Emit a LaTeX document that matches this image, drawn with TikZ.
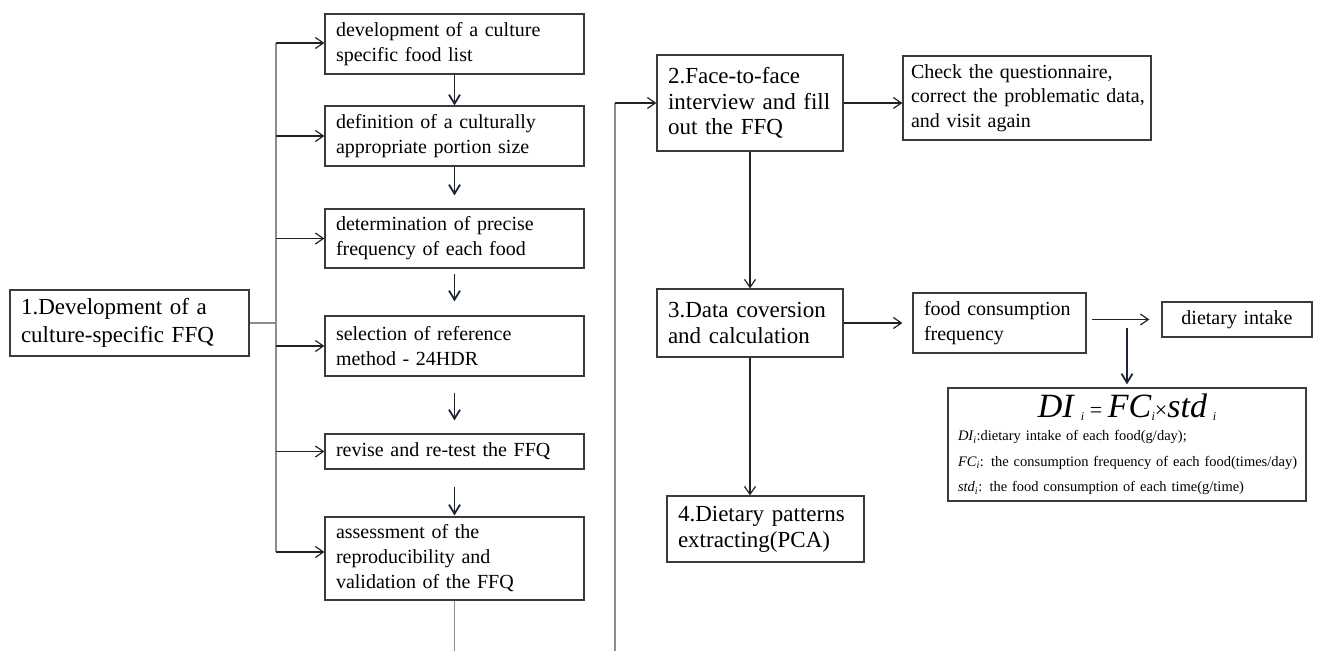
\documentclass[tikz,border=0pt]{standalone}
\usepackage{fontspec}
\setmainfont{Liberation Serif}
\usetikzlibrary{arrows.meta}
\definecolor{boxline}{HTML}{3A3A3A}
\definecolor{busgray}{HTML}{8C8C8C}
\definecolor{navy}{HTML}{1C2438}
\definecolor{arrowdark}{HTML}{222222}
\begin{document}
\begin{tikzpicture}[x=1pt,y=-1pt,
  box/.style={draw=boxline, line width=1.2pt, inner xsep=11pt, inner ysep=0pt, align=left},
  bigtxt/.style={font=\fontsize{23}{26}\selectfont},
  midtxt/.style={font=\fontsize{20}{25}\selectfont},
  bus/.style={draw=busgray, line width=1.2pt},
  harrow/.style={draw=arrowdark, line width=1.2pt, -{Straight Barb[length=8pt,width=11pt]}},
  varrow/.style={draw=navy, line width=1.8pt, -{Straight Barb[length=9pt,width=11pt]}}
]
\useasboundingbox (0,0) rectangle (1324,651);

% left box
\node[box, font=\fontsize{23}{28}\selectfont, text width=217pt, minimum width=239pt, minimum height=66pt] (b1) at (129.5,323) {1.Development of a\\culture-specific FFQ};

% middle column
\node[box, midtxt, text width=237pt, minimum width=259pt, minimum height=60pt] (A) at (454.5,44) {development of a culture\\specific food list};
\node[box, midtxt, text width=237pt, minimum width=259pt, minimum height=60pt] (B) at (454.5,136) {definition of a culturally\\appropriate portion size};
\node[box, midtxt, text width=237pt, minimum width=259pt, minimum height=59pt] (C) at (454.5,238.5) {determination of precise\\frequency of each food};
\node[box, midtxt, text width=237pt, minimum width=259pt, minimum height=60pt] (D) at (454.5,346) {selection of reference\\method - 24HDR};
\node[box, midtxt, text width=237pt, minimum width=259pt, minimum height=35pt] (E) at (454.5,451.5) {revise and re-test the FFQ};
\node[box, midtxt, text width=237pt, minimum width=259pt, minimum height=83pt] (F) at (454.5,558.5) {assessment of the\\reproducibility and\\validation of the FFQ};

% right part
\node[box, font=\fontsize{23}{25.5}\selectfont, text width=164pt, minimum width=186pt, minimum height=96pt] (b2) at (750,103) {2.Face-to-face\\\mbox{interview and fill}\\out the FFQ};
\node[box, font=\fontsize{20}{24.5}\selectfont, inner xsep=8pt, text width=232pt, minimum width=248pt, minimum height=84pt] (chk) at (1027,98) {Check the questionnaire,\\\mbox{correct the problematic data,}\\and visit again};
\node[box, bigtxt, text width=164pt, minimum width=186pt, minimum height=68pt] (b3) at (750,323) {3.Data coversion\\and calculation};
\node[box, midtxt, text width=151pt, minimum width=173pt, minimum height=60pt] (fcf) at (999.5,323) {food consumption\\frequency};
\node[box, midtxt, align=center, text width=128pt, minimum width=150pt, minimum height=35pt] (di) at (1237,319.5) {dietary intake};
\node[box, bigtxt, text width=175pt, minimum width=197pt, minimum height=66pt] (b4) at (765.5,529) {4.Dietary patterns\\extracting(PCA)};
\node[box, inner xsep=10pt, text width=338pt, minimum width=358pt, minimum height=113pt, font=\fontsize{14.5}{25.5}\selectfont] (formula) at (1127,444.5)
 {\makebox[338pt][c]{\fontsize{34}{34}\selectfont\textit{DI}\,{\fontsize{12}{12}\selectfont\raisebox{-3pt}{\textit{i}}}\,{\fontsize{22}{22}\selectfont =}\,\textit{FC}{\fontsize{12}{12}\selectfont\raisebox{-3pt}{\textit{i}}}{\fontsize{22}{22}\selectfont ×}\textit{std}\,{\fontsize{12}{12}\selectfont\raisebox{-3pt}{\textit{i}}}}\\[-2pt]
 \mbox{\textit{DI\textsubscript{i}}:dietary intake of each food(g/day);}\\
 \mbox{\textit{FC\textsubscript{i}}: the consumption frequency of each food(times/day)}\\
 \mbox{\textit{std\textsubscript{i}}: the food consumption of each time(g/time)}};

% bus from left box
\coordinate (busT) at (276,43);
\coordinate (busB) at (276,552);
\draw[bus] (b1.east) -- (b1.east -| busT);
\draw[bus] (busT) -- (busB);
\draw[harrow] (busT) -- (busT -| A.west);
\foreach \n in {B,C,D,E} \draw[harrow] (\n.west -| busT) -- (\n.west);
\draw[harrow] (busB) -- (busB -| F.west);

% middle vertical arrows
\draw[varrow] (A.south) -- (B.north);
\draw[varrow, shorten >=13pt] (B.south) -- (C.north);
\draw[varrow, shorten <=5pt, shorten >=14pt] (C.south) -- (D.north);
\draw[varrow, shorten <=16pt, shorten >=13pt] (D.south) -- (E.north);
\draw[varrow, shorten <=17pt, shorten >=1pt] (E.south) -- (F.north);

% bottom open lines
\coordinate (Fend) at (454.5,651);
\draw[bus] (F.south) -- (Fend);
\coordinate (loopB) at (615,651);
\draw[bus] (loopB) -- (loopB |- b2.west);
\draw[harrow] (loopB |- b2.west) -- (b2.west);

% right side connectors
\draw[harrow] (b2.east) -- (b2.east -| chk.west);
\draw[harrow] (b2.south) -- (b3.north);
\draw[harrow, shorten >=10pt] (b3.east) -- (fcf.west);
\draw[harrow] (b3.south) -- (b3.south |- b4.north);
\draw[harrow, shorten <=5pt, shorten >=12pt] (fcf.east |- di.west) -- (di.west);
\draw[varrow, shorten <=5pt, shorten >=3pt] (fcf.east -| formula.north) -- (formula.north);
\end{tikzpicture}
\end{document}
